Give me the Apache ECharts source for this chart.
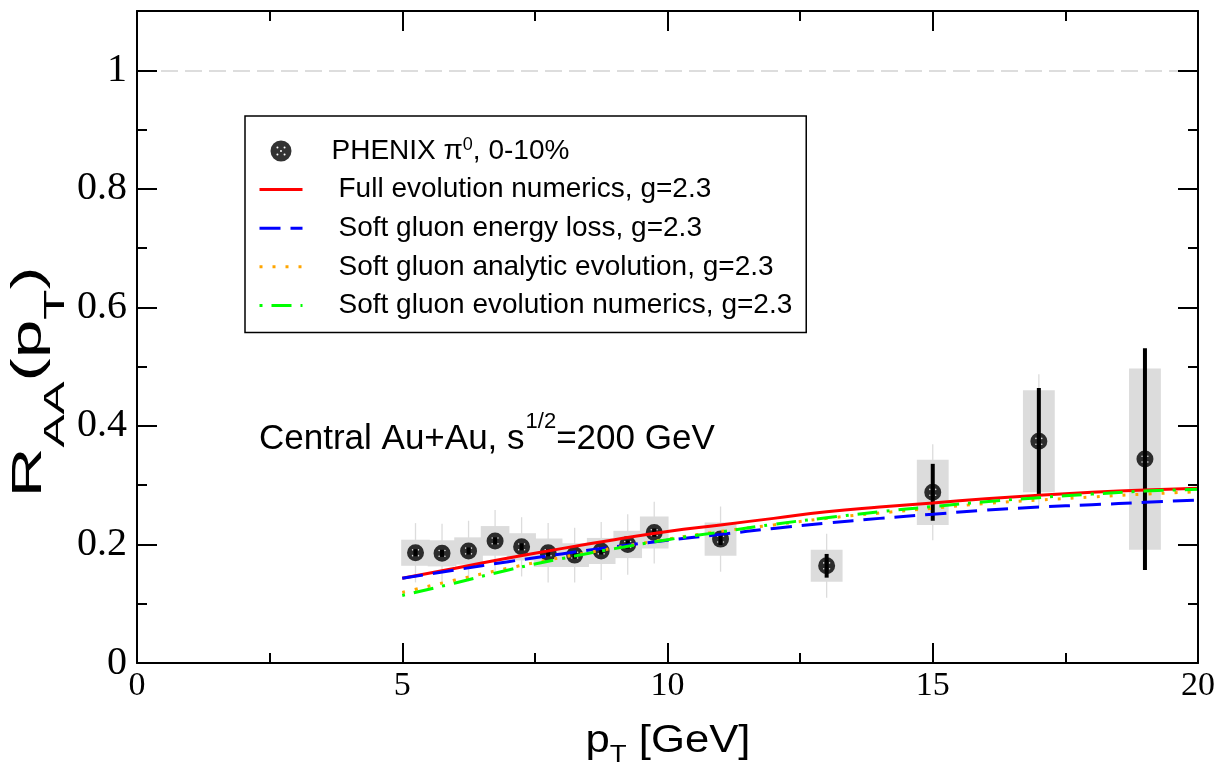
<!DOCTYPE html>
<html>
<head>
<meta charset="utf-8">
<script src="https://cdn.jsdelivr.net/npm/echarts@6/dist/echarts.min.js"></script>
<style>
  html, body { margin: 0; padding: 0; background: #fff; }
  #chart { width: 1220px; height: 765px; }
</style>
</head>
<body>
<div id="chart"></div>
<script>
// PHENIX pi0 nuclear modification factor, 0-10% central Au+Au
const ptBins    = [5.25, 5.75, 6.25, 6.75, 7.25, 7.75, 8.25, 8.75, 9.25, 9.75, 11, 13, 15, 17, 19];
const raaValues = [0.186, 0.185, 0.189, 0.206, 0.196, 0.186, 0.182, 0.189, 0.200, 0.220, 0.209, 0.164, 0.288, 0.374, 0.344];
const statErr   = [0.006, 0.006, 0.006, 0.006, 0.006, 0.006, 0.006, 0.006, 0.007, 0.007, 0.010, 0.020, 0.048, 0.090, 0.187];
const sysErr    = [0.022, 0.022, 0.023, 0.025, 0.023, 0.024, 0.020, 0.022, 0.023, 0.027, 0.028, 0.027, 0.055, 0.086, 0.153];
const totErr    = [0.050, 0.050, 0.051, 0.052, 0.050, 0.050, 0.046, 0.049, 0.051, 0.052, 0.055, 0.054, 0.081, 0.113, 0.187];

// Model calculations, g = 2.3
const curvePt        = [5, 6, 7, 8, 9, 10, 11, 12, 13, 14, 15, 16, 17, 18, 19, 20];
const fullEvolution  = [0.143, 0.160, 0.177, 0.193, 0.208, 0.222, 0.233, 0.244, 0.255, 0.263, 0.270, 0.277, 0.283, 0.288, 0.292, 0.295];
const softLoss       = [0.143, 0.157, 0.171, 0.184, 0.196, 0.207, 0.217, 0.227, 0.236, 0.244, 0.251, 0.258, 0.263, 0.267, 0.271, 0.275];
const softAnalytic   = [0.119, 0.140, 0.160, 0.178, 0.194, 0.209, 0.222, 0.233, 0.244, 0.253, 0.261, 0.269, 0.275, 0.280, 0.285, 0.289];
const softNumerics   = [0.114, 0.135, 0.157, 0.176, 0.193, 0.208, 0.221, 0.234, 0.245, 0.255, 0.264, 0.272, 0.279, 0.285, 0.290, 0.293];

// Axis ticks
const xMajor = [0, 5, 10, 15, 20];
const xMinor = [2.5, 7.5, 12.5, 17.5];
const yMajor = [0, 0.2, 0.4, 0.6, 0.8, 1];
const yMinor = [0.1, 0.3, 0.5, 0.7, 0.9];

const NAME_DATA = 'PHENIX \u03c00, 0-10%';
const NAME_FULL = 'Full evolution numerics, g=2.3';
const NAME_LOSS = 'Soft gluon energy loss, g=2.3';
const NAME_ANA  = 'Soft gluon analytic evolution, g=2.3';
const NAME_NUM  = 'Soft gluon evolution numerics, g=2.3';

const SANS = '"Liberation Sans", Arial, sans-serif';
const SERIF = '"Liberation Serif", "Times New Roman", serif';

// filled disc with five small holes (opposite winding => holes)
function hole(cx, cy, r) {
  return 'M' + (cx - r) + ' ' + cy + 'A' + r + ' ' + r + ' 0 1 0 ' + (cx + r) + ' ' + cy +
         'A' + r + ' ' + r + ' 0 1 0 ' + (cx - r) + ' ' + cy + 'Z';
}
const dotPath = 'path://M0 10A10 10 0 1 1 20 10A10 10 0 1 1 0 10Z' +
  hole(10, 10, 0.95) + hole(6.6, 6.6, 0.95) + hole(13.4, 6.6, 0.95) +
  hole(6.6, 13.4, 0.95) + hole(13.4, 13.4, 0.95);

const frameLine = { color: '#000', width: 2 };

function makeAxis(dim, position, ticks, len, withLine, withLabel) {
  const axis = {
    type: 'value',
    position: position,
    min: 0,
    max: dim === 'x' ? 20 : 1.1,
    z: 5,
    axisLine: { show: withLine, onZero: false, lineStyle: frameLine },
    axisTick: { show: true, inside: true, length: len, customValues: ticks,
                lineStyle: { color: '#000', width: 2 } },
    axisLabel: { show: false, customValues: ticks },
    splitLine: { show: false },
    minorTick: { show: false },
    minorSplitLine: { show: false }
  };
  if (withLabel) {
    axis.axisLabel = dim === 'x'
      ? { show: true, customValues: ticks, margin: 6, color: '#000', fontFamily: SERIF, fontSize: 34 }
      : { show: true, customValues: ticks, margin: 10, color: '#000', fontFamily: SERIF, fontSize: 40 };
  }
  return axis;
}

const chart = echarts.init(document.getElementById('chart'), null, { renderer: 'canvas' });

const errorData = ptBins.map((x, i) => [x, raaValues[i], statErr[i], sysErr[i], totErr[i]]);
const pointData = ptBins.map((x, i) => [x, raaValues[i]]);
const toLine = arr => curvePt.map((x, i) => [x, arr[i]]);

// legend entries for curves: line sample only, no marker
const lineOnly = { opacity: 0, borderWidth: 0 };
const sampleLine = { width: 3 };

const option = {
  animation: false,
  backgroundColor: '#fff',
  grid: { left: 137, right: 22, top: 11, bottom: 102, containLabel: false, outerBoundsMode: 'none' },
  xAxis: [
    makeAxis('x', 'bottom', xMajor, 20, true, true),
    makeAxis('x', 'bottom', xMinor, 10, false, false),
    makeAxis('x', 'top', xMajor, 20, true, false),
    makeAxis('x', 'top', xMinor, 10, false, false)
  ],
  yAxis: [
    makeAxis('y', 'left', yMajor, 20, true, true),
    makeAxis('y', 'left', yMinor, 10, false, false),
    makeAxis('y', 'right', yMajor, 20, true, false),
    makeAxis('y', 'right', yMinor, 10, false, false)
  ],
  legend: {
    orient: 'vertical',
    left: 245,
    top: 116,
    padding: [20, 14, 12, 13],
    borderColor: '#000',
    borderWidth: 1.5,
    backgroundColor: '#fff',
    itemWidth: 43,
    itemHeight: 21,
    itemGap: 8.6,
    selectedMode: false,
    textStyle: {
      color: '#000', fontFamily: SANS, fontSize: 28, lineHeight: 30,
      padding: [0, 0, 0, 31],
      rich: { sup: { fontSize: 18, lineHeight: 18, verticalAlign: 'top', fontFamily: SANS, color: '#000' } }
    },
    formatter: name => name === NAME_DATA ? 'PHENIX \u03c0{sup|0}, 0-10%' : name,
    data: [
      { name: NAME_DATA, textStyle: { padding: [0, 0, 0, 24] } },
      { name: NAME_FULL, itemStyle: lineOnly, lineStyle: sampleLine },
      { name: NAME_LOSS, itemStyle: lineOnly, lineStyle: sampleLine },
      { name: NAME_ANA, itemStyle: lineOnly, lineStyle: sampleLine },
      { name: NAME_NUM, itemStyle: lineOnly, lineStyle: sampleLine }
    ]
  },
  graphic: [
    {
      // vertical axis title
      type: 'text', x: 39.5, y: 382, rotation: Math.PI / 2, scaleX: 1.65, z: 10,
      style: {
        text: '{m|R}{sub|AA}{m|(p}{sub|T}{m|)}',
        align: 'center', verticalAlign: 'middle', fill: '#000',
        rich: {
          m: { fontSize: 42, lineHeight: 44, verticalAlign: 'top', fontFamily: SANS, color: '#000' },
          sub: { fontSize: 30, verticalAlign: 'bottom', padding: [33, 0, 0, 0], fontFamily: SANS, color: '#000' }
        }
      }
    },
    {
      // horizontal axis title
      type: 'text', x: 668, y: 745, scaleX: 1.15, z: 10,
      style: {
        text: '{m|p}{sub|T}{m| [GeV]}',
        align: 'center', verticalAlign: 'middle', fill: '#000',
        rich: {
          m: { fontSize: 38, lineHeight: 40, verticalAlign: 'top', fontFamily: SANS, color: '#000' },
          sub: { fontSize: 24, verticalAlign: 'bottom', padding: [21, 0, 0, 0], fontFamily: SANS, color: '#000' }
        }
      }
    },
    {
      type: 'text', x: 259, y: 411, z: 10,
      style: {
        text: '{m|Central Au+Au, s}{sup|1/2}{m|=200 GeV}',
        align: 'left', verticalAlign: 'top', fill: '#000',
        rich: {
          m: { fontSize: 35, lineHeight: 34, verticalAlign: 'bottom', fontFamily: SANS, color: '#000' },
          sup: { fontSize: 22, verticalAlign: 'top', padding: [0, 0, 24, 1], fontFamily: SANS, color: '#000' }
        }
      }
    }
  ],
  series: [
    {
      // systematic boxes, total and statistical error bars
      type: 'custom',
      z: 1,
      silent: true,
      data: errorData,
      renderItem: function (params, api) {
        const x = api.value(0), y = api.value(1);
        const st = api.value(2), sy = api.value(3), tot = api.value(4);
        const hw = x > 10 ? 0.3 : 0.27;
        const b0 = api.coord([x - hw, y + sy]);
        const b1 = api.coord([x + hw, y - sy]);
        const tTop = api.coord([x, y + tot]), tBot = api.coord([x, y - tot]);
        const sTop = api.coord([x, y + st]), sBot = api.coord([x, y - st]);
        return {
          type: 'group',
          children: [
            { type: 'line', shape: { x1: tTop[0], y1: tTop[1], x2: tBot[0], y2: tBot[1] },
              style: { stroke: '#dcdcdc', lineWidth: 1.3 } },
            { type: 'rect', shape: { x: b0[0], y: b0[1], width: b1[0] - b0[0], height: b1[1] - b0[1] },
              style: { fill: '#dcdcdc' } },
            { type: 'line', shape: { x1: sTop[0], y1: sTop[1], x2: sBot[0], y2: sBot[1] },
              style: { stroke: '#000', lineWidth: 4 } }
          ]
        };
      }
    },
    {
      name: NAME_DATA,
      type: 'scatter',
      z: 2,
      data: pointData,
      symbol: dotPath,
      symbolSize: 17,
      itemStyle: { color: '#000' }
    },
    {
      name: NAME_FULL,
      type: 'line',
      z: 3,
      data: toLine(fullEvolution),
      smooth: true,
      showSymbol: false,
      symbol: 'none',
      color: '#ff0000',
      lineStyle: { color: '#ff0000', width: 3 },
      markLine: {
        silent: true,
        symbol: 'none',
        label: { show: false },
        lineStyle: { color: '#dddddd', width: 2, type: [17, 7] },
        data: [{ yAxis: 1 }]
      }
    },
    {
      name: NAME_LOSS,
      type: 'line',
      z: 3,
      data: toLine(softLoss),
      smooth: true,
      showSymbol: false,
      symbol: 'none',
      color: '#0000ff',
      lineStyle: { color: '#0000ff', width: 3, type: [21, 10] }
    },
    {
      name: NAME_ANA,
      type: 'line',
      z: 3,
      data: toLine(softAnalytic),
      smooth: true,
      showSymbol: false,
      symbol: 'none',
      color: '#ffa500',
      lineStyle: { color: '#ffa500', width: 3, type: [3, 10] }
    },
    {
      name: NAME_NUM,
      type: 'line',
      z: 3,
      data: toLine(softNumerics),
      smooth: true,
      showSymbol: false,
      symbol: 'none',
      color: '#00ff00',
      lineStyle: { color: '#00ff00', width: 3, type: [3, 9, 20, 9] }
    }
  ]
};

chart.setOption(option);
</script>
</body>
</html>
